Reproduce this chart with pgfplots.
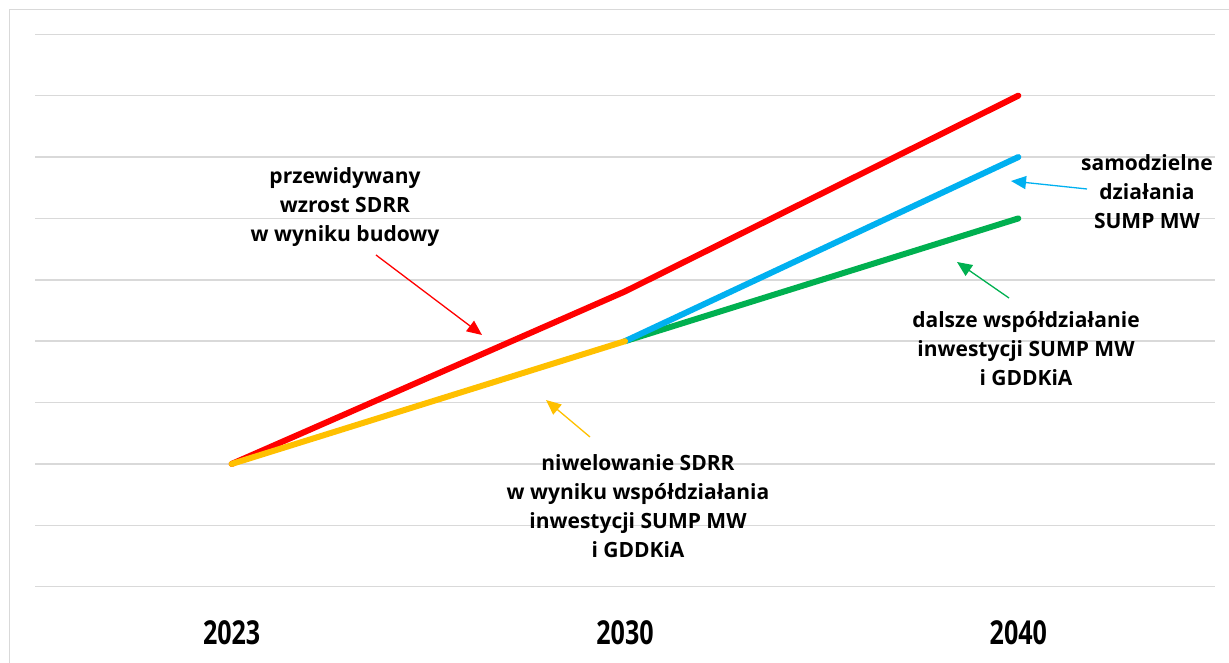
\documentclass[border=0pt]{standalone}
\usepackage{fontspec}
\setmainfont{Open Sans}
\newfontfamily\yearfont{Open Sans}[FakeStretch=0.76]
\usepackage{pgfplots}
\pgfplotsset{compat=1.18}
\usetikzlibrary{arrows.meta}
\definecolor{cred}{HTML}{FF0000}
\definecolor{cblue}{HTML}{00B0F0}
\definecolor{cgreen}{HTML}{00B050}
\definecolor{cyellow}{HTML}{FFC000}
\definecolor{cgrid}{HTML}{D9D9D9}
\begin{document}
\begin{tikzpicture}
\begin{axis}[
  at={(0pt,0pt)}, anchor=south west,
  scale only axis, width=1180pt, height=552.4pt,
  xmin=-0.5, xmax=2.5, ymin=0, ymax=9,
  xtick={0,1,2}, xticklabels={\mbox{2023},\mbox{2030},\mbox{2040}},
  xticklabel style={font=\yearfont\bfseries\fontsize{33}{33}\selectfont, anchor=center, yshift=-45.5pt},
  ytick={0,1,...,9}, yticklabels={},
  ymajorgrids, grid style={draw=cgrid, line width=1.4pt},
  major tick length=0pt,
  axis line style={draw=none},
  clip=false,
]
\addplot[cred, line width=6pt, line cap=round, line join=round] coordinates {(0,2.0) (1,4.81) (2,8.0)};
\addplot[cgreen, line width=6pt, line cap=round, line join=round] coordinates {(1,4.0) (2,6.0)};
\addplot[cblue, line width=6pt, line cap=round, line join=round] coordinates {(1,4.0) (2,7.0)};
\addplot[cyellow, line width=6pt, line cap=round, line join=round] coordinates {(0,2.0) (1,4.0)};
\end{axis}
\begin{scope}[x=1pt, y=-1pt, shift={(-35pt,586.7pt)}]
  \draw[cgrid, line width=1.4pt] (9.3,663) -- (9.3,9.3) -- (1229,9.3);
  \draw[cred, line width=1.3pt, -{Triangle[length=15pt,width=13pt]}] (376,255) -- (482,335);
  \draw[cblue, line width=1.3pt, -{Triangle[length=15pt,width=13pt]}] (1087,189) -- (1011,181);
  \draw[cgreen, line width=1.3pt, -{Triangle[length=15pt,width=13pt]}] (1009,298) -- (957,262);
  \draw[cyellow, line width=1.3pt, -{Triangle[length=15pt,width=13pt]}] (590,437) -- (546,400);
  \tikzset{lab/.style={align=center, inner sep=0pt, font=\bfseries\fontsize{21}{29}\selectfont}}
  \node[lab] at (345,207) {przewidywany\\wzrost SDRR\\w wyniku budowy};
  \node[lab] at (1147,192) {samodzielne\\działania\\SUMP MW};
  \node[lab] at (1026,349) {dalsze współdziałanie\\inwestycji SUMP MW\\i GDDKiA};
  \node[lab] at (638,506.5) {niwelowanie SDRR\\w wyniku współdziałania\\inwestycji SUMP MW\\i GDDKiA};
  \pgfresetboundingbox
  \useasboundingbox (0,0) rectangle (1229,663);
\end{scope}
\end{tikzpicture}
\end{document}
